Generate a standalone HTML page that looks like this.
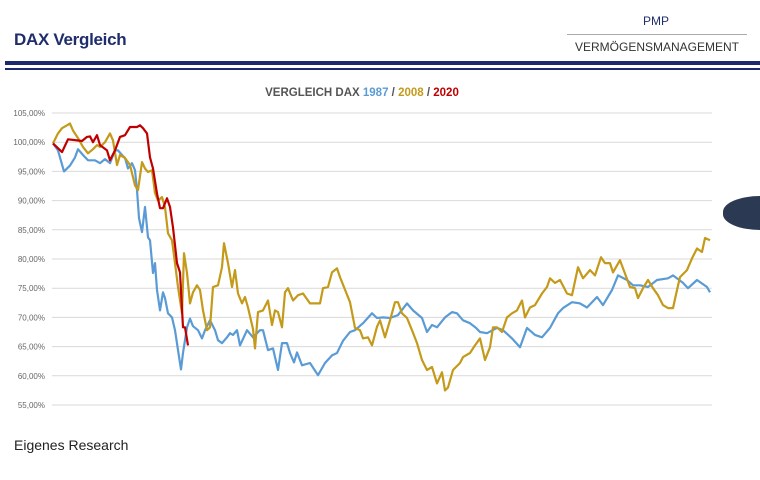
<!DOCTYPE html>
<html><head><meta charset="utf-8">
<style>
html,body{margin:0;padding:0;background:#fff;}
body{width:760px;height:480px;position:relative;overflow:hidden;font-family:"Liberation Sans",sans-serif;}
.abs{position:absolute;}
</style></head>
<body>
<div class="abs" style="left:14px;top:30px;font-size:17px;font-weight:bold;color:#1f2d6b;letter-spacing:-0.3px;">DAX Vergleich</div>
<div class="abs" style="left:566px;top:14px;width:180px;text-align:center;font-size:12px;color:#1f2d6b;">PMP</div>
<div class="abs" style="left:567px;top:34px;width:180px;height:1px;background:#aaa;"></div>
<div class="abs" style="left:562px;top:40px;width:190px;text-align:center;font-size:12px;color:#333;">VERMÖGENSMANAGEMENT</div>
<div class="abs" style="left:5px;top:61px;width:755px;height:4px;background:#1a2a6c;"></div>
<div class="abs" style="left:5px;top:68px;width:755px;height:2px;background:#1a2a6c;"></div>
<div class="abs" style="left:723px;top:196px;width:37px;height:34px;border-radius:40px 0 0 40px / 17px 0 0 17px;background:#2b3a52;"></div>
<div class="abs" style="left:14px;top:437px;font-size:14px;color:#222;">Eigenes Research</div>
<svg class="abs" style="left:0;top:0" width="760" height="480" id="chart">
<text x="362" y="96" text-anchor="middle" font-size="11.5" font-weight="bold" fill="#555" font-family="Liberation Sans, sans-serif">VERGLEICH DAX <tspan fill="#5b9bd5">1987</tspan> / <tspan fill="#c49a1a">2008</tspan> / <tspan fill="#c00000">2020</tspan></text>
</svg>
<script>
const yTicks=[105,100,95,90,85,80,75,70,65,60,55];
const tickLabels=["105,00%","100,00%","95,00%","90,00%","85,00%","80,00%","75,00%","70,00%","65,00%","60,00%","55,00%"];
// day index (0..658) and value (% of start)
const days1987=[1,6,12,18,23,26,31,36,43,48,53,58,63,66,70,73,76,80,83,85,87,90,93,96,98,101,103,105,108,111,113,116,120,123,126,129,131,135,138,141,146,150,153,158,163,166,170,175,178,181,185,188,195,201,208,211,216,221,226,230,235,238,242,245,250,258,266,273,280,285,291,298,303,311,320,325,331,338,346,355,361,370,375,380,385,393,400,405,411,418,424,428,435,445,451,460,468,475,483,490,498,506,511,520,528,535,545,551,560,566,575,581,588,596,605,616,621,631,636,645,655,658];
const vals1987=[99.8,98.6,95,96,97.4,98.8,97.8,96.9,96.9,96.4,97.1,96.4,98.6,98.6,97.8,97.3,95.5,96.4,95.2,91.8,87,84.6,88.9,83.7,83.2,77.6,79.3,74.7,71.2,74.3,73.3,70.7,70,67.8,64.4,61.1,63.9,68.3,69.8,68.5,67.8,66.4,67.8,69.5,67.8,66.1,65.6,66.6,67.3,67,67.8,65.2,67.8,66.6,67.8,67.8,64.4,64.7,61,65.6,65.6,63.9,62.3,64,61.8,62.2,60.1,62.2,63.5,63.9,66,67.5,67.8,69,70.7,69.9,70,69.9,70.4,72.4,71.2,69.9,67.5,68.7,68.3,70,70.9,70.7,69.5,69,68.2,67.5,67.3,68.2,67.8,66.4,64.9,68.2,67,66.6,68.2,70.7,71.6,72.6,72.4,71.7,73.5,72.1,74.7,77.2,76.4,75.5,75.5,75.2,76.4,76.7,77.2,75.9,75,76.4,75.2,74.3,75.2];
const days2008=[1,6,10,15,18,21,26,31,36,41,45,48,53,58,61,65,68,73,78,83,86,90,93,96,100,103,106,110,113,116,120,123,126,130,132,135,138,141,145,148,151,155,158,161,166,170,172,176,180,183,186,190,193,196,201,203,206,211,216,220,223,226,230,233,236,241,246,251,258,268,271,276,280,285,288,298,303,308,311,316,320,325,328,333,338,343,346,350,355,360,365,370,375,380,385,390,393,396,401,408,411,418,423,428,433,438,441,445,450,455,460,465,470,473,478,483,490,495,498,503,508,515,520,526,531,538,543,549,553,558,561,568,573,578,583,586,591,596,601,606,611,616,621,625,628,635,640,645,650,653,658];
const vals2008=[99.8,101.5,102.4,102.9,103.2,102,100.7,99.2,98.1,98.8,99.5,99.2,100,101.5,100.3,96.1,97.8,97.3,96.1,92.6,91.8,96.6,95.5,94.9,95.2,91.3,90,90.6,88.9,84.4,83.2,79.3,75.2,70.7,81,77.6,72.4,74.3,75.5,74.7,71.2,67.8,68.3,75.2,75.5,78.6,82.7,79.3,75.2,78.1,74.1,72.4,73.5,71.7,68,64.7,70.9,71.2,72.9,68.7,71.2,70.9,68.3,74.3,75,72.9,73.8,74.1,72.4,72.4,75,75.2,77.7,78.4,76.9,72.6,68.2,67.8,66.4,66.6,65.2,68.4,69.5,66.6,69.5,72.6,72.6,70.7,69.9,67.8,65.6,62.7,61,61.5,58.7,60.6,57.5,58,61,62.2,63.2,63.9,65.2,66.4,62.7,64.9,68.3,68.3,67.5,70,70.7,71.2,72.9,70,71.7,72.1,74.1,75.2,76.7,75.9,76.4,74.1,73.8,78.6,76.7,78.1,77.2,80.3,79.3,79.3,77.7,79.8,77.5,75.2,75,73.3,75,76.4,75,73.8,72.1,71.6,71.6,74.7,76.9,78.1,80.1,81.8,81.2,83.6,83.2];
const days2020=[1,10,16,25,30,35,38,41,45,48,55,58,63,68,73,78,85,88,91,95,98,101,105,108,111,115,118,121,125,128,131,133,136];
const vals2020=[99.8,98.3,100.5,100.3,100.2,100.9,101,100,101.2,99.5,98.6,96.9,98.6,100.9,101.2,102.6,102.6,102.9,102.4,101.5,97.4,95.5,91.2,88.7,88.7,90.4,88.9,85.4,79.3,77.7,68.3,68.3,65.2];

const svg=document.getElementById('chart');
const NS='http://www.w3.org/2000/svg';
const X0=52,X1=710,Y105=113,Y55=405;
const xs=d=>X0+(d/658)*(X1-X0);
const ys=v=>Y105+(105-v)/50*(Y55-Y105);
yTicks.forEach((t,i)=>{
  const l=document.createElementNS(NS,'line');
  l.setAttribute('x1',52);l.setAttribute('x2',712);
  l.setAttribute('y1',ys(t));l.setAttribute('y2',ys(t));
  l.setAttribute('stroke','#d9d9d9');l.setAttribute('stroke-width','1');
  
  
  svg.appendChild(l);
  const tx=document.createElementNS(NS,'text');
  tx.setAttribute('x',45);tx.setAttribute('y',ys(t)+3);
  tx.setAttribute('text-anchor','end');tx.setAttribute('font-size','8');
  tx.setAttribute('fill','#666');tx.setAttribute('font-family','Liberation Sans, sans-serif');
  tx.textContent=tickLabels[i];
  
  
  svg.appendChild(tx);
});
function drawLine(days,vals,color,name){
  const n=Math.min(days.length,vals.length);
  const pts=[];
  for(let i=0;i<n;i++)pts.push(xs(days[i]).toFixed(1)+','+ys(vals[i]).toFixed(1));
  const p=document.createElementNS(NS,'polyline');
  p.setAttribute('points',pts.join(' '));
  p.setAttribute('fill','none');p.setAttribute('stroke',color);
  p.setAttribute('stroke-width','2.2');p.setAttribute('stroke-linejoin','round');
  
  
  svg.appendChild(p);
}
drawLine(days1987,vals1987,'#5b9bd5','line-1987');
drawLine(days2008,vals2008,'#c49a1a','line-2008');
drawLine(days2020,vals2020,'#c00000','line-2020');
</script>
</body></html>
